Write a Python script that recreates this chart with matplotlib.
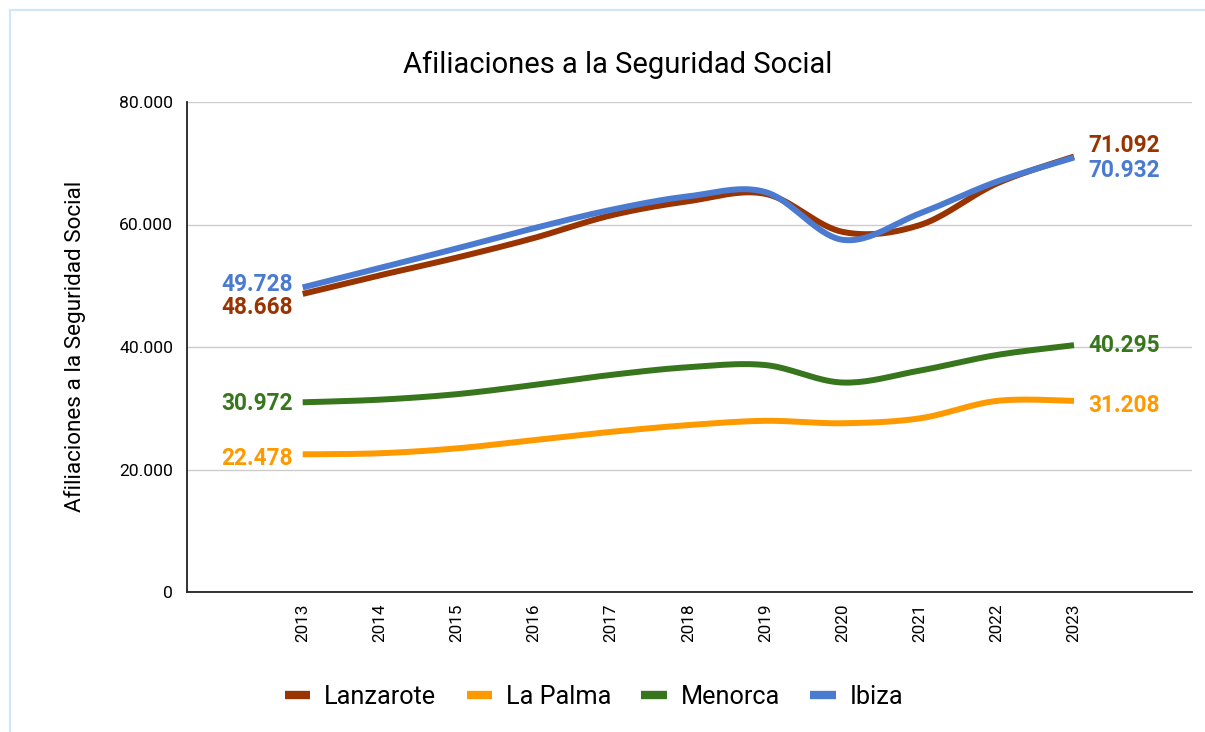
import numpy as np
import matplotlib
matplotlib.use("Agg")
import matplotlib.pyplot as plt
from matplotlib.lines import Line2D
from matplotlib.patches import Rectangle
from matplotlib.ticker import FuncFormatter

plt.rcParams['font.family'] = ['Roboto', 'DejaVu Sans']

years = [2013, 2014, 2015, 2016, 2017, 2018, 2019, 2020, 2021, 2022, 2023]
lanzarote = [48668, 51700, 54600, 57800, 61500, 63800, 65000, 58800, 59900, 66700, 71092]
la_palma = [22478, 22650, 23450, 24800, 26150, 27250, 27950, 27550, 28350, 31200, 31208]
menorca = [30972, 31400, 32300, 33800, 35450, 36700, 37050, 34200, 36150, 38700, 40295]
ibiza = [49728, 52900, 56100, 59400, 62400, 64600, 65300, 57500, 61800, 67000, 70932]

series = [
    ("Lanzarote", lanzarote, "#993300"),
    ("La Palma", la_palma, "#ff9900"),
    ("Menorca", menorca, "#38761d"),
    ("Ibiza", ibiza, "#4a7bd0"),
]

# label offsets in points (start, end)
label_offsets = {
    "Lanzarote": (-10, 8),
    "La Palma": (-3, -3),
    "Menorca": (-1, 0),
    "Ibiza": (2, -9),
}


def smooth(x, y, n=20, tension=0.5):
    x = np.asarray(x, float)
    y = np.asarray(y, float)
    xs, ys = [], []
    for i in range(len(x) - 1):
        p0 = (x[max(i - 1, 0)], y[max(i - 1, 0)])
        p1 = (x[i], y[i])
        p2 = (x[i + 1], y[i + 1])
        p3 = (x[min(i + 2, len(x) - 1)], y[min(i + 2, len(x) - 1)])
        m1 = tension * (np.array(p2) - np.array(p0))
        m2 = tension * (np.array(p3) - np.array(p1))
        t = np.linspace(0, 1, n, endpoint=False)
        h00 = 2 * t**3 - 3 * t**2 + 1
        h10 = t**3 - 2 * t**2 + t
        h01 = -2 * t**3 + 3 * t**2
        h11 = t**3 - t**2
        xs.append(h00 * p1[0] + h10 * m1[0] + h01 * p2[0] + h11 * m2[0])
        ys.append(h00 * p1[1] + h10 * m1[1] + h01 * p2[1] + h11 * m2[1])
    xs.append([x[-1]])
    ys.append([y[-1]])
    return np.concatenate(xs), np.concatenate(ys)


def fmt(v):
    return f"{int(round(v)):,}".replace(",", ".")


fig = plt.figure(figsize=(12.05, 7.32), dpi=100)
fig.patches.append(Rectangle((10 / 1205, -0.05), 1.1, 1 - 10 / 732 + 0.05,
                             transform=fig.transFigure, fill=False,
                             edgecolor="#cfe6f8", linewidth=1.5, zorder=0))

ax = fig.add_axes([187 / 1205, 1 - 592 / 732, (1192 - 187) / 1205, (592 - 102) / 732])

for name, vals, color in series:
    sx, sy = smooth(years, vals)
    ax.plot(sx, sy, color=color, linewidth=4.3, solid_capstyle="butt", zorder=3)
    so, eo = label_offsets[name]
    ax.annotate(fmt(vals[0]), (years[0], vals[0]), xytext=(-7, so),
                textcoords="offset points", ha="right", va="center",
                color=color, fontsize=16.3, fontweight="bold", zorder=4)
    ax.annotate(fmt(vals[-1]), (years[-1], vals[-1]), xytext=(10, eo),
                textcoords="offset points", ha="left", va="center",
                color=color, fontsize=16.3, fontweight="bold", zorder=4)

ax.set_xlim(2011.5, 2024.53)
ax.set_ylim(0, 80000)
ax.set_yticks([0, 20000, 40000, 60000, 80000])
ax.yaxis.set_major_formatter(FuncFormatter(lambda v, p: fmt(v)))
ax.set_xticks(years)
ax.set_xticklabels([str(y) for y in years], rotation=90, fontsize=12.3)
ax.tick_params(axis="y", length=0, pad=10, labelsize=12.6)
ax.tick_params(axis="x", length=0, pad=8)
ax.grid(axis="y", color="#cccccc", linewidth=1)
ax.set_axisbelow(True)
for s in ["top", "right"]:
    ax.spines[s].set_visible(False)
ax.spines["left"].set_color("#222222")
ax.spines["bottom"].set_color("#222222")
ax.spines["left"].set_linewidth(1.3)
ax.spines["bottom"].set_linewidth(1.3)

fig.text(75 / 1205, 1 - 346 / 732, "Afiliaciones a la Seguridad Social",
         ha="center", va="center", rotation=90, fontsize=16.2)
fig.text(618 / 1205, 1 - 65 / 732, "Afiliaciones a la Seguridad Social",
         ha="center", va="center", fontsize=21)

handles = [Line2D([0], [0], color=c, linewidth=6, solid_capstyle="butt") for _, _, c in series]
fig.legend(handles, [n for n, _, _ in series], loc="center",
           bbox_to_anchor=(594 / 1205, 1 - 697 / 732), ncol=4, frameon=False,
           fontsize=18.2, handlelength=1.0, handletextpad=0.55, columnspacing=1.2)

fig.savefig("out.png", dpi=100)
